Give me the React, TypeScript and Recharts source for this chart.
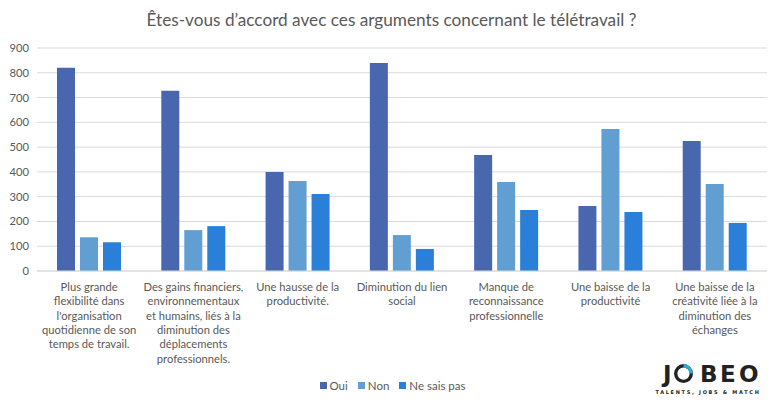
import { BarChart, Bar, XAxis, YAxis, CartesianGrid } from "recharts";

const CATEGORIES = [
  "Plus grande flexibilité dans l'organisation quotidienne de son temps de travail.",
  "Des gains financiers, environnementaux et humains, liés à la diminution des déplacements professionnels.",
  "Une hausse de la productivité.",
  "Diminution du lien social",
  "Manque de reconnaissance professionnelle",
  "Une baisse de la productivité",
  "Une baisse de la créativité liée à la diminution des échanges",
];

// line breaks as they appear under the axis
const CATEGORY_LINES = [
  ["Plus grande", "flexibilité dans", "l'organisation", "quotidienne de son", "temps de travail."],
  ["Des gains financiers,", "environnementaux", "et humains, liés à la", "diminution des", "déplacements", "professionnels."],
  ["Une hausse de la", "productivité."],
  ["Diminution du lien", "social"],
  ["Manque de", "reconnaissance", "professionnelle"],
  ["Une baisse de la", "productivité"],
  ["Une baisse de la", "créativité liée à la", "diminution des", "échanges"],
];

const OUI = [820, 727, 400, 839, 468, 262, 525];
const NON = [136, 165, 363, 145, 359, 573, 351];
const NSP = [116, 181, 311, 89, 246, 238, 194];
const Y_TICKS = [0, 100, 200, 300, 400, 500, 600, 700, 800, 900];

const SERIES = [
  { key: "oui", name: "Oui", color: "#4967ae" },
  { key: "non", name: "Non", color: "#619fd2" },
  { key: "nsp", name: "Ne sais pas", color: "#2a80d8" },
];

const TEXT = "#595959";
const FONT = "Lato, 'Open Sans', sans-serif";

const data = CATEGORIES.map((c, i) => ({ name: c, oui: OUI[i], non: NON[i], nsp: NSP[i] }));

function CategoryTick(props: any) {
  const { x, y, index } = props;
  const lines = CATEGORY_LINES[index] ?? [];
  return (
    <text x={x} y={y + 12} textAnchor="middle" fill={TEXT} fontSize={11.2} fontFamily={FONT}>
      {lines.map((l, i) => (
        <tspan key={i} x={x} dy={i === 0 ? 0 : 14.3}>{l}</tspan>
      ))}
    </text>
  );
}

function ChartLegend() {
  return (
    <div style={{ position: "absolute", top: 379, left: 2, width: 781, display: "flex", justifyContent: "center", gap: 10, fontFamily: FONT, fontSize: 11.5, color: TEXT }}>
      {SERIES.map((s) => (
        <span key={s.key} style={{ display: "flex", alignItems: "center", gap: 3 }}>
          <span style={{ width: 7, height: 7, background: s.color, display: "inline-block" }} />
          {s.name}
        </span>
      ))}
    </div>
  );
}

function Logo() {
  return (
    <svg width={115} height={36} style={{ position: "absolute", left: 654, top: 362 }}>
      <g fill="#222" fontFamily="'DejaVu Sans', sans-serif" fontWeight="bold" fontSize={23}>
        <text x={9} y={20}>J</text>
        <text x={46} y={20}>B</text>
        <text x={66} y={20}>E</text>
        <text x={85} y={20}>O</text>
      </g>
      <circle cx={29.5} cy={11.6} r={7.8} fill="none" stroke="#222" strokeWidth={3.4} />
      <path d="M 29.5 3.8 A 7.8 7.8 0 0 1 37.3 11.6" fill="none" stroke="#29abe2" strokeWidth={3.4} />
      <text x={54} y={32} textAnchor="middle" fontSize={5} fontWeight="bold" letterSpacing={1.7} fill="#222" fontFamily="'DejaVu Sans', sans-serif">
        TALENTS, JOBS &amp; MATCH
      </text>
    </svg>
  );
}

export default function App() {
  return (
    <div style={{ position: "absolute", left: 0, top: 0, width: 781, height: 405, background: "#fff" }}>
      <div style={{ position: "absolute", top: 9, width: 781, left: 1, textAlign: "center", fontFamily: FONT, fontSize: 17.2, color: TEXT }}>
        Êtes-vous d’accord avec ces arguments concernant le télétravail ?
      </div>
      <BarChart
        width={781}
        height={405}
        data={data}
        margin={{ top: 48, right: 14, bottom: 0, left: 0 }}
        barCategoryGap={20}
        barGap={5}
      >
        <CartesianGrid vertical={false} stroke="#d9d9d9" strokeWidth={1} />
        <XAxis
          dataKey="name"
          interval={0}
          tickLine={false}
          axisLine={{ stroke: "#d9d9d9" }}
          tick={<CategoryTick />}
          height={134}
        />
        <YAxis
          width={37}
          domain={[0, 900]}
          ticks={Y_TICKS}
          interval={0}
          axisLine={false}
          tickLine={false}
          tick={{ fill: TEXT, fontSize: 11.2, fontFamily: FONT }}
        />
        {SERIES.map((s) => (
          <Bar key={s.key} dataKey={s.key} name={s.name} fill={s.color} isAnimationActive={false} />
        ))}
      </BarChart>
      <ChartLegend />
      <Logo />
    </div>
  );
}
